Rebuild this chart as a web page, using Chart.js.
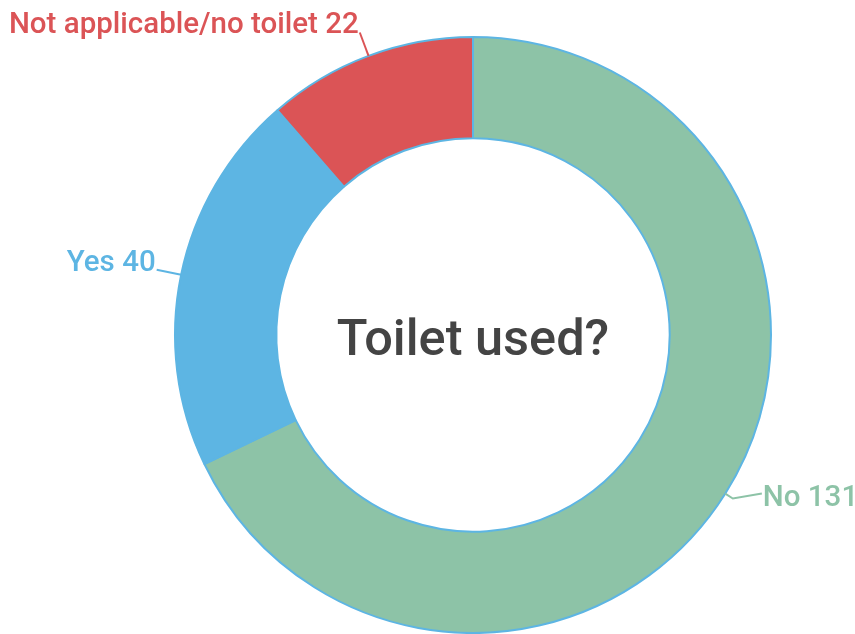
<!DOCTYPE html>
<html>
<head>
<meta charset="utf-8">
<script src="https://cdn.jsdelivr.net/npm/chart.js@4"></script>
<style>
  html, body { margin: 0; padding: 0; background: #fff; }
  #wrap { width: 855px; height: 634px; }
</style>
</head>
<body>
<div id="wrap"><canvas id="toiletChart" width="855" height="634"></canvas></div>
<script>
// data
const categories = ['No', 'Yes', 'Not applicable/no toilet'];
const counts = [131, 40, 22];
const sliceColors = ['#8dc3a7', '#5db5e3', '#db5456'];
const centerTitle = 'Toilet used?';

// labels outside the ring with a leader line
const outLabels = {
    id: 'outLabels',
    afterDatasetsDraw(chart) {
        const c = chart.ctx;
        const arcs = chart.getDatasetMeta(0).data;
        c.save();
        c.font = '500 29.5px Roboto';
        c.lineWidth = 2;
        arcs.forEach((arc, i) => {
            const mid = (arc.startAngle + arc.endAngle) / 2;
            const cos = Math.cos(mid), sin = Math.sin(mid);
            const r = arc.outerRadius;
            const x0 = arc.x + cos * r, y0 = arc.y + sin * r;
            const txt = categories[i] + ' ' + counts[i];
            c.strokeStyle = sliceColors[i];
            c.fillStyle = sliceColors[i];
            c.beginPath();
            c.moveTo(x0, y0);
            if (cos > 0) {
                // right side: short radial kink then across to the text
                const x1 = x0 + cos * 9, y1 = y0 + sin * 9;
                const x2 = x1 + 29, y2 = y1 - 5;
                c.lineTo(x1, y1);
                c.lineTo(x2, y2);
                c.stroke();
                c.textAlign = 'left';
                c.textBaseline = 'middle';
                c.fillText(txt, x2 + 1, y2 + 5);
            } else {
                const x1 = x0 + cos * 25, y1 = y0 + sin * 25;
                c.lineTo(x1, y1);
                c.stroke();
                c.textAlign = 'right';
                c.textBaseline = 'alphabetic';
                c.fillText(txt, x1 - 1, y1 + 1);
            }
        });
        c.restore();
    }
};

const centerText = {
    id: 'centerText',
    afterDatasetsDraw(chart) {
        const arc = chart.getDatasetMeta(0).data[0];
        const c = chart.ctx;
        c.save();
        c.font = '500 50.5px Roboto';
        c.fillStyle = '#444444';
        c.textAlign = 'center';
        c.textBaseline = 'middle';
        c.fillText(centerTitle, arc.x, arc.y + 7);
        c.restore();
    }
};

new Chart(document.getElementById('toiletChart'), {
    type: 'doughnut',
    data: {
        labels: categories,
        datasets: [{
            data: counts,
            backgroundColor: sliceColors,
            borderColor: '#5db5e3',
            borderWidth: 2,
            borderAlign: 'center'
        }]
    },
    options: {
        responsive: false,
        animation: false,
        cutout: '66%',
        layout: { padding: { top: 36, bottom: 0, left: 171, right: 80 } },
        plugins: {
            legend: { display: false },
            tooltip: { enabled: false }
        }
    },
    plugins: [outLabels, centerText]
});
</script>
</body>
</html>
